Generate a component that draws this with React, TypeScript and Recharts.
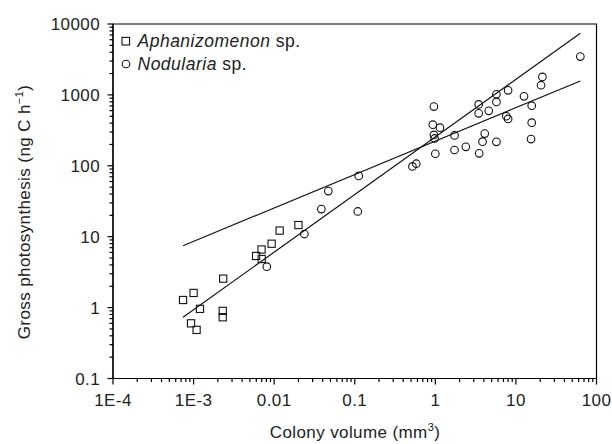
import { ScatterChart, Scatter, XAxis, YAxis, ReferenceArea } from "recharts";

type Pt = { vol: number; gp: number };

const aphanizomenon: Pt[] = [
  { vol: 7.4e-4, gp: 1.28 }, { vol: 1.0e-3, gp: 1.61 }, { vol: 1.2e-3, gp: 0.96 },
  { vol: 9.3e-4, gp: 0.6 }, { vol: 1.09e-3, gp: 0.485 }, { vol: 2.33e-3, gp: 2.56 },
  { vol: 2.3e-3, gp: 0.9 }, { vol: 2.3e-3, gp: 0.73 }, { vol: 5.97e-3, gp: 5.35 },
  { vol: 6.97e-3, gp: 6.6 }, { vol: 7.0e-3, gp: 4.85 }, { vol: 9.3e-3, gp: 7.96 },
  { vol: 0.0117, gp: 12.2 }, { vol: 0.02, gp: 14.6 },
];

const nodularia: Pt[] = [
  { vol: 8.1e-3, gp: 3.78 }, { vol: 0.0237, gp: 10.9 }, { vol: 0.0385, gp: 24.5 },
  { vol: 0.047, gp: 44 }, { vol: 0.112, gp: 72 }, { vol: 0.109, gp: 22.7 },
  { vol: 0.52, gp: 98 }, { vol: 0.58, gp: 107 }, { vol: 0.96, gp: 685 },
  { vol: 0.93, gp: 380 }, { vol: 1.14, gp: 345 }, { vol: 0.96, gp: 273 },
  { vol: 0.98, gp: 243 }, { vol: 1.0, gp: 148 }, { vol: 1.73, gp: 268 },
  { vol: 1.73, gp: 167 }, { vol: 2.39, gp: 185 }, { vol: 3.45, gp: 735 },
  { vol: 3.45, gp: 550 }, { vol: 3.5, gp: 150 }, { vol: 3.85, gp: 219 },
  { vol: 4.1, gp: 285 }, { vol: 4.6, gp: 596 }, { vol: 5.73, gp: 1020 },
  { vol: 5.73, gp: 796 }, { vol: 5.73, gp: 218 }, { vol: 7.6, gp: 500 },
  { vol: 8.0, gp: 459 }, { vol: 8.0, gp: 1160 }, { vol: 12.6, gp: 955 },
  { vol: 15.7, gp: 705 }, { vol: 15.7, gp: 406 }, { vol: 15.4, gp: 238 },
  { vol: 20.5, gp: 1370 }, { vol: 21.3, gp: 1795 }, { vol: 63, gp: 3470 },
];

// regression lines, end points only
const lineSteep: Pt[] = [{ vol: 7.4e-4, gp: 0.73 }, { vol: 63, gp: 7400 }];
const lineShallow: Pt[] = [{ vol: 7.4e-4, gp: 7.46 }, { vol: 63, gp: 1574 }];

const xMajor = [1e-4, 1e-3, 0.01, 0.1, 1, 10, 100];
const xLabels = ["1E-4", "1E-3", "0.01", "0.1", "1", "10", "100"];
const yMajor = [0.1, 1, 10, 100, 1000, 10000];
const yLabels = ["0.1", "1", "10", "100", "1000", "10000"];

const FONT = "'Liberation Sans', Arial, Helvetica, sans-serif";

function withMinor(major: number[]) {
  const out: number[] = [];
  major.forEach((m, i) => {
    out.push(m);
    if (i < major.length - 1) for (let k = 2; k <= 9; k++) out.push(m * k);
  });
  return out;
}

const majorIndex = (list: number[], v: number) =>
  list.findIndex((m) => Math.abs(v - m) / m < 1e-6);

function XTick(props: any) {
  const { x, y, payload } = props;
  const i = majorIndex(xMajor, payload.value);
  return (
    <g>
      <line x1={x} x2={x} y1={y} y2={y + (i >= 0 ? 6 : 3.5)} stroke="#000" strokeWidth={1.2} />
      {i >= 0 && (
        <text x={x} y={y + 27} textAnchor="middle" fontFamily={FONT} fontSize={17} letterSpacing={0.4} fill="#222">
          {xLabels[i]}
        </text>
      )}
    </g>
  );
}

function YTick(props: any) {
  const { x, y, payload } = props;
  const i = majorIndex(yMajor, payload.value);
  return (
    <g>
      <line x1={x - (i >= 0 ? 5.5 : 3.5)} x2={x} y1={y} y2={y} stroke="#000" strokeWidth={1.2} />
      {i >= 0 && (
        <text x={x - 13} y={y} dy="0.36em" textAnchor="end" fontFamily={FONT} fontSize={17} letterSpacing={0.4} fill="#222">
          {yLabels[i]}
        </text>
      )}
    </g>
  );
}

const square = (p: any) => (
  <rect x={p.cx - 3.6} y={p.cy - 3.6} width={7.2} height={7.2} fill="none" stroke="#111" strokeWidth={1.1} />
);
const ring = (p: any) => <circle cx={p.cx} cy={p.cy} r={3.8} fill="none" stroke="#111" strokeWidth={1.1} />;
const nothing = () => <g />;

export default function App() {
  return (
    <div style={{ position: "absolute", left: 0, top: 0, width: 612, height: 444, background: "#fff" }}>
      <ScatterChart width={612} height={444} margin={{ top: 24, right: 15.5, bottom: 35.5, left: 53 }}>
        <XAxis
          type="number"
          dataKey="vol"
          scale="log"
          domain={[1e-4, 100]}
          allowDataOverflow
          ticks={withMinor(xMajor)}
          interval={0}
          tickSize={0}
          tickMargin={0}
          tickLine={false}
          tick={<XTick />}
          axisLine={{ stroke: "#000", strokeWidth: 1.2 }}
          height={30}
        />
        <YAxis
          type="number"
          dataKey="gp"
          scale="log"
          domain={[0.1, 10000]}
          allowDataOverflow
          ticks={withMinor(yMajor)}
          interval={0}
          tickSize={0}
          tickMargin={0}
          tickLine={false}
          tick={<YTick />}
          axisLine={{ stroke: "#000", strokeWidth: 1.2 }}
          width={60}
        />
        <ReferenceArea x1={1e-4} x2={100} y1={0.1} y2={10000} fill="none" stroke="#000" strokeWidth={1.2} ifOverflow="visible" />
        <Scatter data={lineSteep} shape={nothing} line={{ stroke: "#111", strokeWidth: 1.2 }} isAnimationActive={false} />
        <Scatter data={lineShallow} shape={nothing} line={{ stroke: "#111", strokeWidth: 1.2 }} isAnimationActive={false} />
        <Scatter data={aphanizomenon} shape={square} isAnimationActive={false} />
        <Scatter data={nodularia} shape={ring} isAnimationActive={false} />
      </ScatterChart>
      <svg width={612} height={444} style={{ position: "absolute", left: 0, top: 0, pointerEvents: "none" }}>
        <g fontFamily={FONT} fontSize={17} letterSpacing={0.4} fill="#222">
          <text x={355} y={438} textAnchor="middle">
            Colony volume (mm<tspan dy={-7} fontSize={11}>3</tspan>
            <tspan dy={7}>)</tspan>
          </text>
          <text transform="translate(30,212) rotate(-90)" textAnchor="middle">
            Gross photosynthesis (ng C h<tspan dy={-7} fontSize={11}>−1</tspan>
            <tspan dy={7}>)</tspan>
          </text>
        </g>
        <g fontFamily={FONT} fontSize={17.5} letterSpacing={0.5} fill="#222">
          <rect x={122} y={37.4} width={7.6} height={7.6} fill="none" stroke="#111" strokeWidth={1.1} />
          <text x={137.5} y={47}>
            <tspan fontStyle="italic">Aphanizomenon</tspan> sp.
          </text>
          <circle cx={126} cy={64} r={3.8} fill="none" stroke="#111" strokeWidth={1.1} />
          <text x={137.5} y={70}>
            <tspan fontStyle="italic">Nodularia</tspan> sp.
          </text>
        </g>
      </svg>
    </div>
  );
}
